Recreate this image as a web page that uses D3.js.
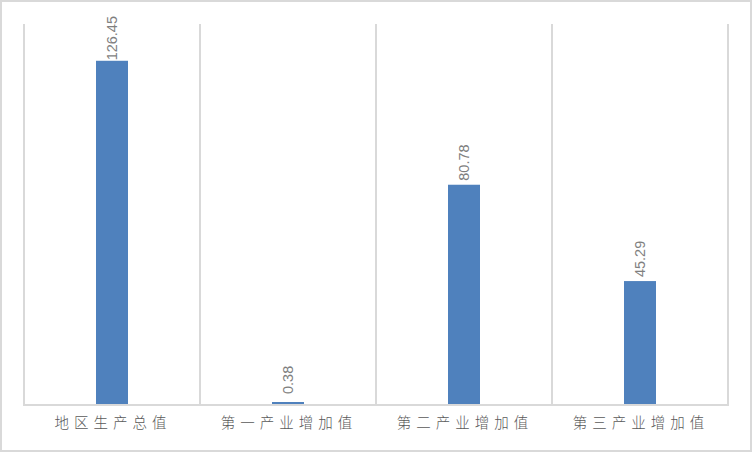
<!DOCTYPE html>
<html>
<head>
<meta charset="utf-8">
<script src="https://cdn.jsdelivr.net/npm/d3@7"></script>
<style>
  html, body { margin: 0; padding: 0; background: #fff; }
  svg { display: block; }
</style>
</head>
<body>
<svg id="svg" width="752" height="452"></svg>
<script>
// 数据
var categories = ["地区生产总值", "第一产业增加值", "第二产业增加值", "第三产业增加值"];
var values = [126.45, 0.38, 80.78, 45.29];
var yMax = 140;

var svg = d3.select("#svg");
var margin = {top: 24, right: 24, bottom: 48, left: 24},
    width = +svg.attr("width") - margin.left - margin.right,
    height = +svg.attr("height") - margin.top - margin.bottom;

// 外框
svg.append("rect")
  .attr("x", 1).attr("y", 1)
  .attr("width", 750).attr("height", 450)
  .attr("fill", "#fff")
  .attr("stroke", "#d9d9d9")
  .attr("stroke-width", 2);

var g = svg.append("g").attr("transform", "translate(" + margin.left + "," + margin.top + ")");

var x = d3.scaleBand().domain(categories).range([0, width]).padding(0);
var y = d3.scaleLinear().domain([0, yMax]).range([height, 0]);
var barW = x.bandwidth() / 5.5;

// 分类间的竖线
var bounds = categories.map(function(c) { return x(c); }).concat([width]);
g.selectAll(".vline")
  .data(bounds)
  .enter().append("line")
  .attr("class", "vline")
  .attr("x1", function(d) { return d; })
  .attr("x2", function(d) { return d; })
  .attr("y1", 0)
  .attr("y2", height)
  .attr("stroke", "#d9d9d9")
  .attr("stroke-width", 2);

// X轴
var xAxis = g.append("g")
  .attr("transform", "translate(0," + height + ")")
  .call(d3.axisBottom(x).tickSize(0).tickPadding(14));
xAxis.select(".domain")
  .attr("stroke", "#d9d9d9")
  .attr("stroke-width", 2)
  .attr("d", "M-1,1H" + (width + 1));
xAxis.selectAll("text")
  .attr("fill", "#595959")
  .style("font-family", "'Noto Sans CJK SC', sans-serif")
  .style("font-size", "14.5px")
  .style("font-weight", "300")
  .style("letter-spacing", "5px")
  .attr("dx", "1px");

// 柱子
g.selectAll(".bar")
  .data(values)
  .enter().append("rect")
  .attr("class", "bar")
  .attr("x", function(d, i) { return x(categories[i]) + x.bandwidth() / 2 - barW / 2; })
  .attr("y", function(d) { return Math.min(y(d), height - 2); })
  .attr("width", barW)
  .attr("height", function(d) { return Math.max(height - y(d), 2); })
  .attr("fill", "#4f81bd");

// 数据标签（竖排）
var labels = g.selectAll(".lbl")
  .data(values)
  .enter().append("text")
  .attr("class", "lbl")
  .attr("fill", "#7f7f7f")
  .style("font-family", "'Liberation Sans', Arial, sans-serif")
  .style("font-size", "14.5px")
  .attr("text-anchor", "start")
  .attr("dy", "0.35em")
  .text(function(d) { return d.toFixed(2); });

labels.attr("transform", function(d, i) {
  var len = this.getComputedTextLength();
  var cx = x(categories[i]) + x.bandwidth() / 2;
  var yy = Math.max(Math.min(y(d) - 4, height - 10), -8 + len);
  return "translate(" + cx + "," + yy + ") rotate(-90)";
});
</script>
</body>
</html>
